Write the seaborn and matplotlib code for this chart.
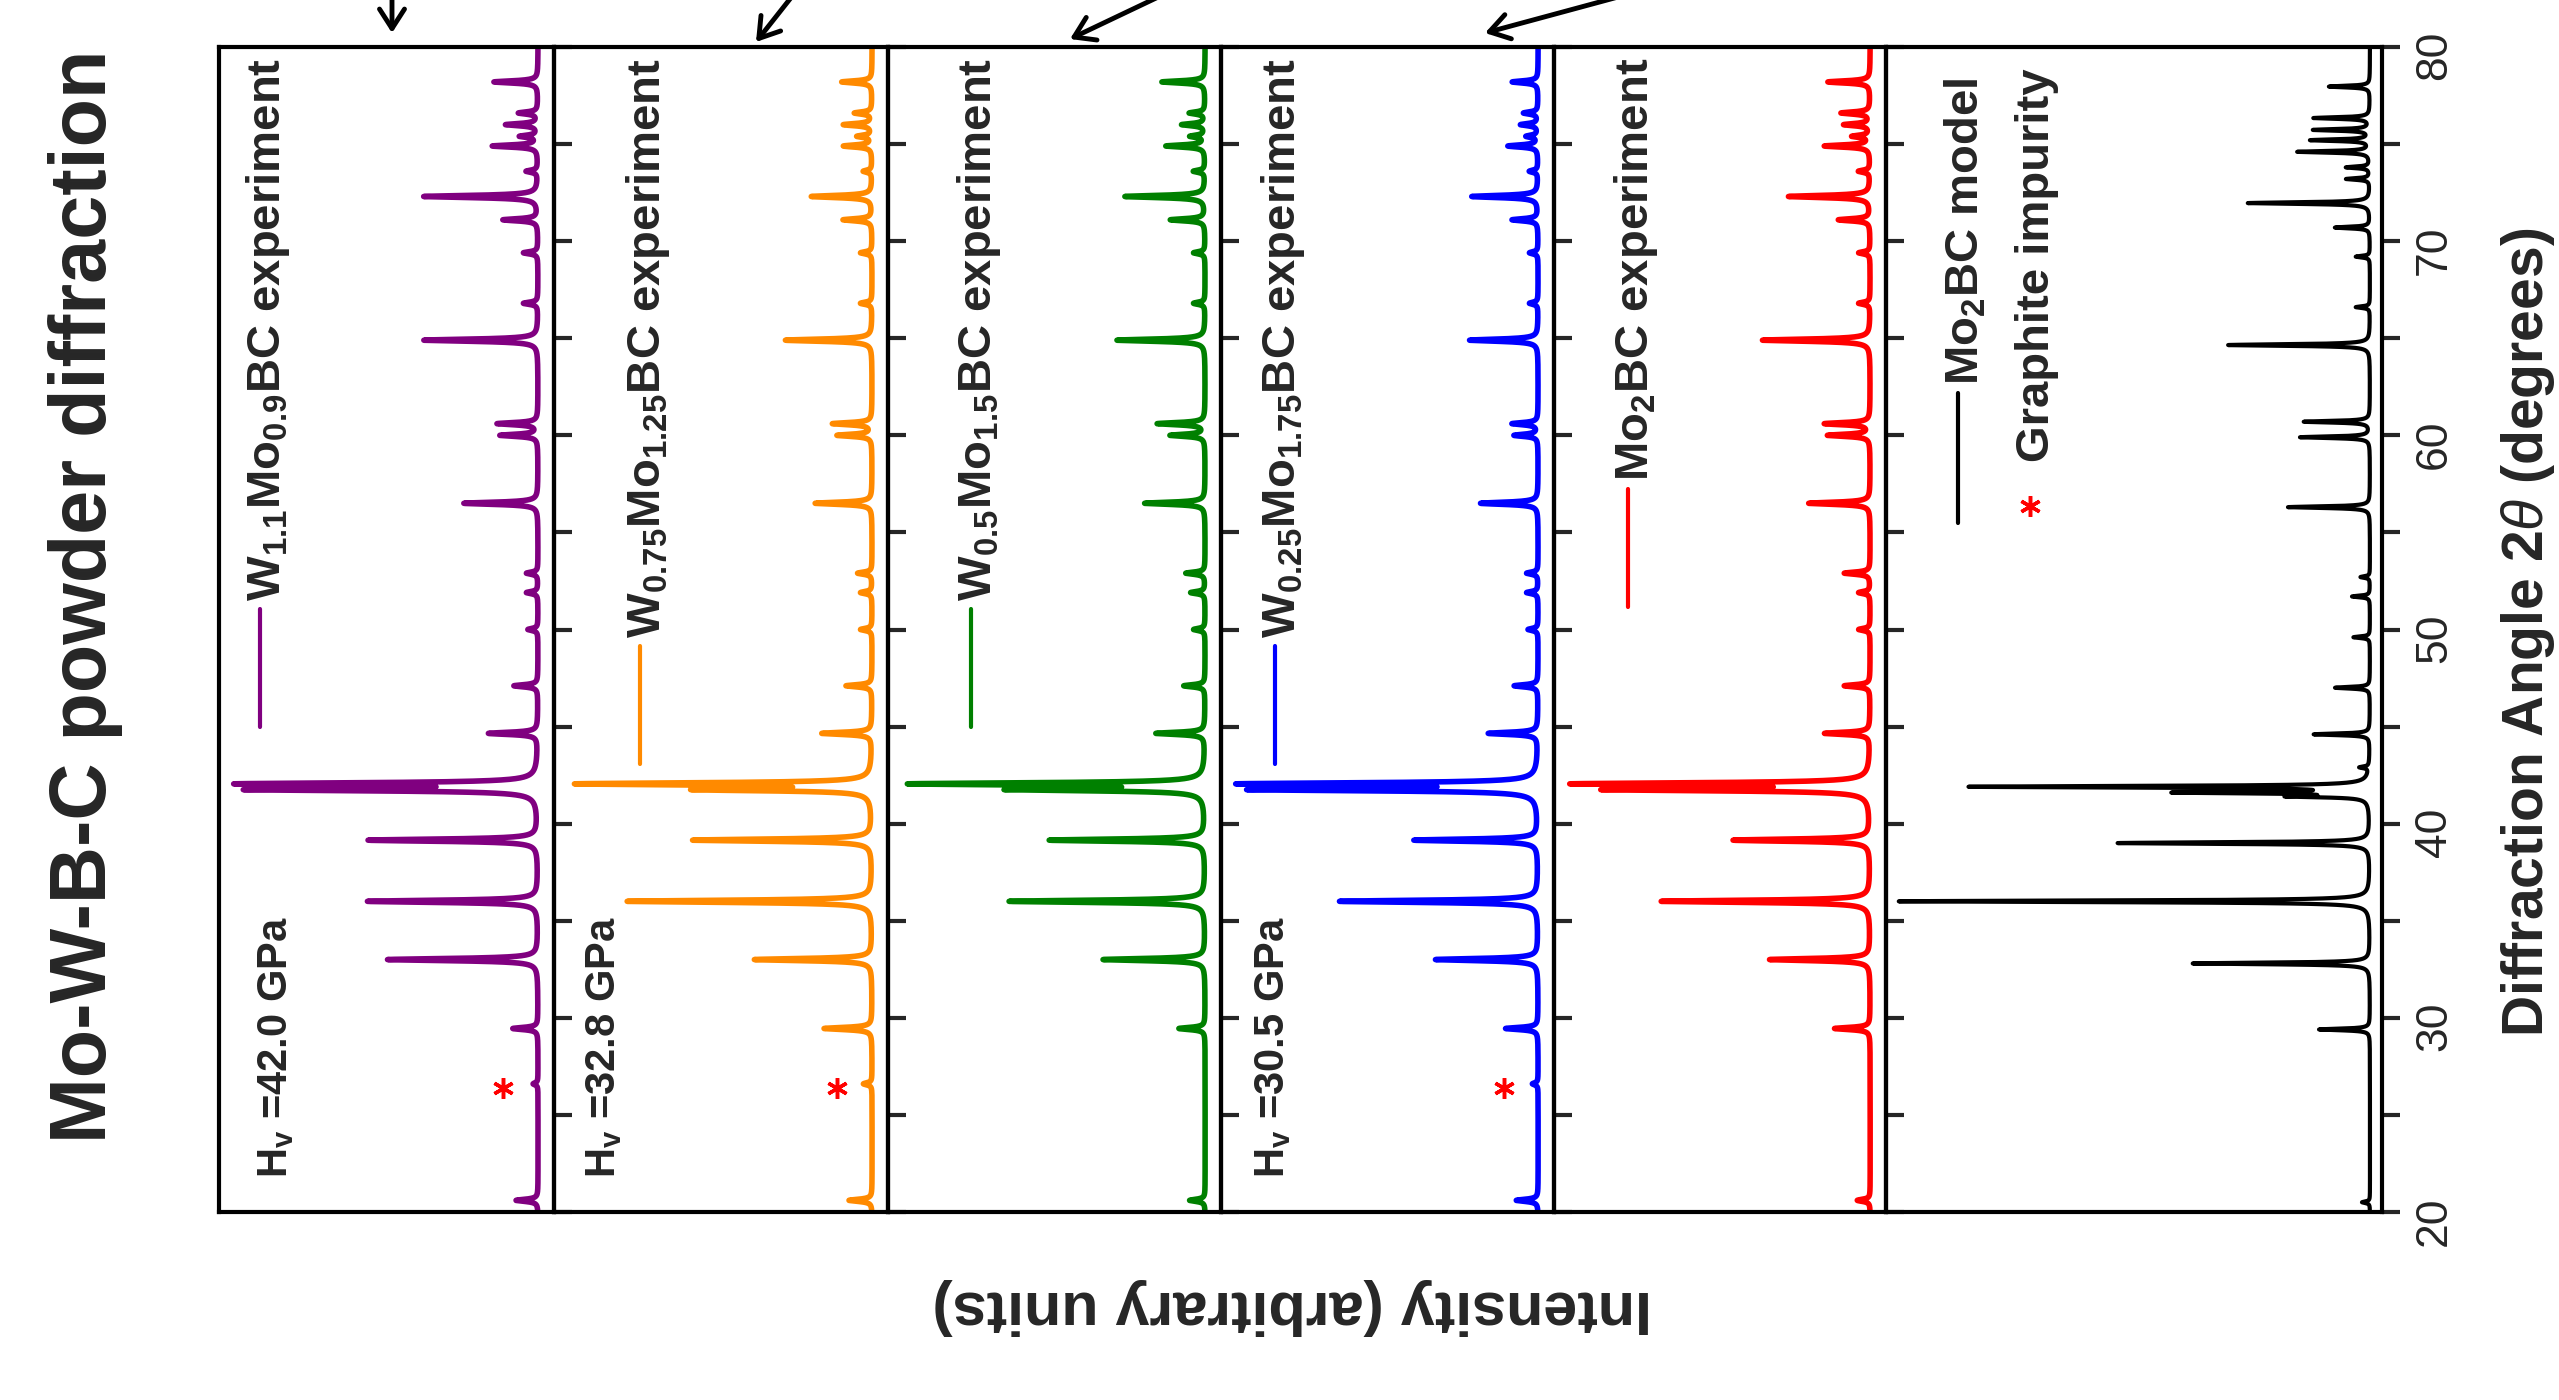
import numpy as np
import pandas as pd
import matplotlib
matplotlib.use("Agg")
import matplotlib.pyplot as plt
from matplotlib.lines import Line2D
import seaborn as sns

# ---------------- data ----------------
# peak positions (2-theta, degrees) for the measured patterns
two_theta_exp = [20.6, 26.6, 29.45, 33.0, 36.0, 39.15, 41.75, 42.05, 44.65, 47.1,
                 50.0, 51.9, 52.9, 56.5, 60.0, 60.6, 64.9, 66.8, 69.4, 71.1,
                 72.3, 73.6, 74.9, 75.4, 76.0, 76.6, 78.2]

# relative peak heights (strongest = 100) for each sample
h_w110 = [7.6, 1.7, 8.7, 51.9, 58.8, 58.5, 96.5, 100, 17, 8.3, 3.5, 4, 4, 25.6, 13,
          14, 39.4, 5, 5, 12, 39.4, 4, 15.6, 6, 11, 6.6, 15.2]
h_w075 = [8, 3, 16.6, 40.7, 84.7, 62, 57.6, 100, 17.3, 9, 4, 4, 5, 19.7, 12, 13.6,
          30, 4, 4, 10, 21, 3, 9.8, 5, 9.8, 6, 10.5]
h_w050 = [5.4, 0, 9.1, 35.4, 68, 54, 64.6, 100, 17, 7.4, 4, 5, 6.7, 21, 12, 16.5,
          30.6, 4, 4, 12, 27.8, 4, 13.5, 5, 8, 5.4, 15]
h_w025 = [7.6, 2, 11.3, 35.6, 68.9, 43, 96, 100, 17.2, 8.3, 3.5, 4, 4, 20, 8.3, 9,
          23.8, 3, 3, 9, 23, 3, 10.4, 4, 6, 5, 9]
h_mo2 = [4.5, 0, 12.4, 35, 72.7, 47.6, 88.6, 100, 15.8, 9, 4, 4, 9, 21.4, 14.7, 15.8,
         37.5, 4, 4, 11, 28.4, 4, 15.8, 6, 9, 10, 14.7]

# calculated pattern of the Mo2BC model
two_theta_model = [20.5, 29.4, 32.8, 36.0, 39.0, 41.4, 41.6, 41.9, 42.9, 44.6, 47.0,
                   49.6, 51.7, 52.7, 56.3, 59.9, 60.7, 64.65, 66.6, 69.2, 70.7, 71.96,
                   73.2, 73.8, 74.6, 75.2, 75.73, 76.34, 77.96]
h_model = [1.7, 10.8, 37.6, 100, 53.5, 15, 39, 84, 2, 11.9, 7.4, 3.5, 3.8, 2, 17.4,
           14.8, 14.0, 30.1, 3, 3, 7.4, 25.9, 5, 5, 15.3, 12.5, 11.9, 11.9, 8.7]

labels = [r"$\mathrm{W_{1.1}Mo_{0.9}BC}$ experiment",
          r"$\mathrm{W_{0.75}Mo_{1.25}BC}$ experiment",
          r"$\mathrm{W_{0.5}Mo_{1.5}BC}$ experiment",
          r"$\mathrm{W_{0.25}Mo_{1.75}BC}$ experiment",
          r"$\mathrm{Mo_{2}BC}$ experiment",
          r"$\mathrm{Mo_{2}BC}$ model"]
colors = ["#800080", "#FF8A00", "#008000", "#0000FF", "#FF0000", "#000000"]
hardness = {0: "42.0", 1: "32.8", 3: "30.5"}
graphite_marked = [0, 1, 3]
graphite_angle = 26.4

# ---------------- style ----------------
sns.set_style("white")
plt.rcParams["font.family"] = ["Liberation Sans", "DejaVu Sans"]
plt.rcParams["mathtext.fontset"] = "custom"
plt.rcParams["mathtext.rm"] = "Liberation Sans:bold"
plt.rcParams["mathtext.bf"] = "Liberation Sans:bold"
plt.rcParams["mathtext.it"] = "Liberation Sans:italic"

W, H = 2559, 1400
fig = plt.figure(figsize=(W / 100, H / 100), dpi=100)
fig.patch.set_facecolor("white")

edges = [219, 554, 888, 1221, 1554, 1886, 2382]
top_px, bottom_px = 47, 1212


def pattern(grid, positions, heights, base, gamma):
    y = np.full_like(grid, base)
    for p, h in zip(positions, heights):
        y += h * gamma ** 2 / ((grid - p) ** 2 + gamma ** 2)
    return y


grid = np.arange(20.0, 80.0001, 0.005)
series = [(two_theta_exp, h_w110), (two_theta_exp, h_w075), (two_theta_exp, h_w050),
          (two_theta_exp, h_w025), (two_theta_exp, h_mo2), (two_theta_model, h_model)]

axes = []
for i in range(6):
    x0, x1 = edges[i], edges[i + 1]
    ax = fig.add_axes([x0 / W, 1 - bottom_px / H, (x1 - x0) / W, (bottom_px - top_px) / H])
    pos, hts = series[i]
    model = i == 5
    inten = pattern(grid, pos, hts, 2.55 if model else 5.5, 0.05 if model else 0.07)
    df = pd.DataFrame({"intensity": inten, "two_theta": grid})
    sns.lineplot(data=df, x="intensity", y="two_theta", orient="y", sort=False,
                 estimator=None, color=colors[i], lw=3.0 if model else 4.0, ax=ax)
    ax.set_ylim(20, 80)
    ax.set_xlim(105.3 if model else 115.6, 0)
    ax.set_xticks([])
    ax.set_xlabel("")
    ax.set_ylabel("")
    ax.yaxis.tick_right()
    ax.set_yticks(range(20, 81, 5))
    if model:
        ax.set_yticklabels([str(t) if t % 10 == 0 else "" for t in range(20, 81, 5)])
    else:
        ax.set_yticklabels([])
    ax.tick_params(axis="y", which="major", direction="out", length=13, width=3,
                   labelsize=32, labelrotation=90, pad=10, right=True, left=False)
    for s in ax.spines.values():
        s.set_linewidth(3)
        s.set_color("black")
    ax.set_facecolor("none")
    if i in graphite_marked:
        ax.plot([17.5], [graphite_angle], linestyle="none", marker=(6, 2, 0),
                color="red", markersize=15, markeredgewidth=2.5)
    axes.append(ax)

fig.canvas.draw()


def fig_text(x, y, s, **kw):
    return fig.text(x / W, 1 - y / H, s, **kw)


def handle_line(x, y_start, length, color):
    fig.add_artist(Line2D([x / W, x / W], [1 - y_start / H, 1 - (y_start + length) / H],
                          transform=fig.transFigure, color=color, lw=3.0))


def text_bottom_px(t):
    fig.canvas.draw()
    bb = t.get_window_extent()
    return H - bb.y0


# legend entries for each panel (rotated text with a short handle below it)
handle_x = [260, 640, 971, 1275, 1628, 1958]
for i in range(6):
    y_top = 78 if i == 5 else 58
    t = fig_text(handle_x[i] + 8, y_top, labels[i], rotation=90, ha="center", va="top",
                 fontsize=34, fontweight="bold")
    yb = text_bottom_px(t)
    handle_line(handle_x[i], yb + 8, 130 if i == 5 else 118, colors[i])

g = fig_text(2037, 68, "Graphite impurity", rotation=90, ha="center", va="top",
             fontsize=34, fontweight="bold")
gb = text_bottom_px(g)
fig.add_artist(Line2D([2030 / W], [1 - (gb + 44) / H], transform=fig.transFigure,
                      linestyle="none", marker=(6, 2, 0), color="red",
                      markersize=15, markeredgewidth=2.5))

# hardness annotations
hv_x = {0: 276, 1: 604, 3: 1273}
for i, val in hardness.items():
    fig_text(hv_x[i], 1178, r"H$_\mathrm{v}$ =" + val + " GPa", rotation=90, ha="center",
             va="bottom", fontsize=30, fontweight="bold")

# titles and axis labels
fig_text(86, 596, "Mo-W-B-C powder diffraction", rotation=90, ha="center", va="center",
         fontsize=57, fontweight="bold")
fig_text(1292, 1306, "Intensity (arbitrary units)", rotation=180, ha="center",
         va="center", fontsize=44, fontweight="bold")
fig_text(2528, 632, r"Diffraction Angle 2$\theta$ (degrees)", rotation=90, ha="center",
         va="center", fontsize=41, fontweight="bold")

# pointer arrows entering from the top edge
arrows = [((392, -15), (392, 33)), ((801, -15), (756, 42)),
          ((1173, -10), (1070, 39)), ((1644, -10), (1485, 33))]
for (tx, ty), (hx, hy) in arrows:
    fig.add_artist(matplotlib.patches.FancyArrowPatch(
        (tx / W, 1 - ty / H), (hx / W, 1 - hy / H), transform=fig.transFigure,
        arrowstyle="->,head_length=0.7,head_width=0.45", mutation_scale=20,
        lw=3.5, color="black", shrinkA=0, shrinkB=0))

fig.savefig("out.png", dpi=100, facecolor="white")
